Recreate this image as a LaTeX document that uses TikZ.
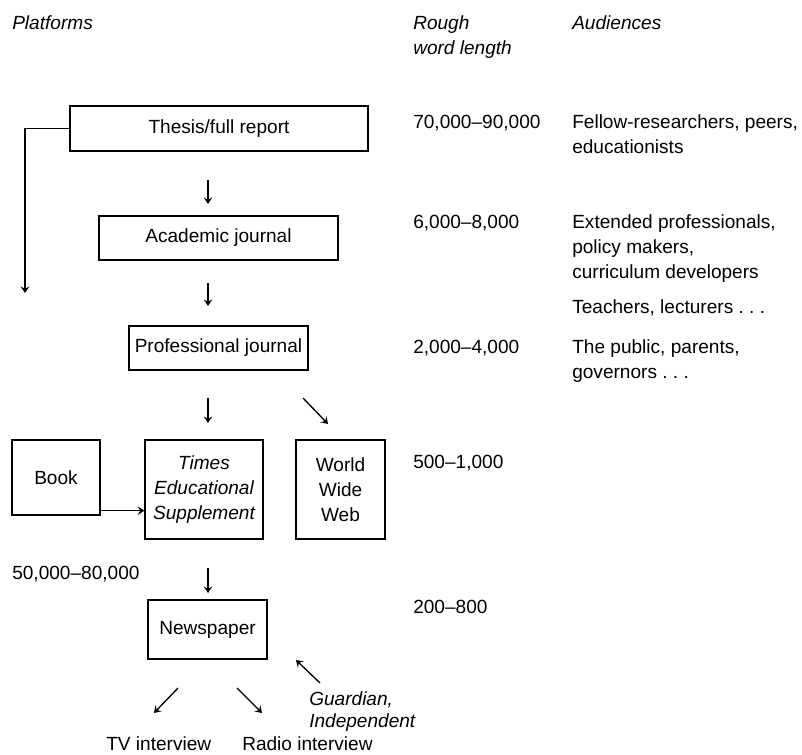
\documentclass[tikz,border=0pt]{standalone}
\usepackage{fontspec}
\setmainfont{Liberation Sans}
\usetikzlibrary{arrows.meta, positioning, calc}

\tikzset{
  box/.style={draw, line width=1pt, inner sep=0pt, align=center},
  lbl/.style={anchor=base west, inner sep=0pt, align=left},
  flow/.style={->, line width=1pt},
}

\begin{document}
\fontsize{14.3}{18.75}\selectfont\frenchspacing
\begin{tikzpicture}[x=0.75pt, y=-0.75pt, >={Stealth[length=5pt,width=6.5pt,inset=2pt]}]
    \useasboundingbox (0,0) rectangle (802,754);

    % column heads (multi-line labels sit on their last line)
    \node[lbl, font=\itshape] (hplat) at (12,29) {Platforms};
    \node[lbl, font=\itshape] (hlen) at (413,54) {Rough\\word length};
    \node[lbl, font=\itshape] (haud) at (572,29) {Audiences};

    % platforms
    \node[box, minimum width=223.5pt, minimum height=33.75pt] (thesis) at (219,128.5) {Thesis/full report};
    \node[box, minimum width=179.25pt, minimum height=33pt] (academic) at (218.5,238) {Academic journal};
    \node[box, minimum width=134.25pt, minimum height=33pt] (profjournal) at (218.5,348) {Professional journal};
    \node[box, minimum width=66pt, minimum height=56.25pt] (book) at (56,477.5) {Book};
    \node[box, minimum width=88.5pt, minimum height=74.25pt, font=\itshape] (tes) at (204,489.5) {Times\\Educational\\Supplement};
    \node[box, minimum width=66.75pt, minimum height=74.25pt] (www) at (340.5,489.5) {World\\Wide\\Web};
    \node[box, minimum width=89.25pt, minimum height=44.25pt] (newspaper) at (207.5,629.5) {Newspaper};

    \node[lbl] (tv) at (106,750) {TV interview};
    \node[lbl] (radio) at (242,750) {Radio interview};
    \node[lbl, font=\itshape] (guardian) at (309,727) {Guardian,\\[-2.25pt]Independent};
    \node[lbl] (lenbook) at (12,579) {50,000–80,000};

    % word lengths
    \node[lbl] (len1) at (413,128) {70,000–90,000};
    \node[lbl] (len2) at (413,228) {6,000–8,000};
    \node[lbl] (len3) at (413,353) {2,000–4,000};
    \node[lbl] (len4) at (413,468) {500–1,000};
    \node[lbl] (len5) at (413,613) {200–800};

    % audiences
    \node[lbl] (aud1) at (572,153) {Fellow-researchers, peers,\\educationists};
    \node[lbl] (aud2) at (572,278) {Extended professionals,\\policy makers,\\curriculum developers};
    \node[lbl] (aud3) at (572,313) {Teachers, lecturers . . .};
    \node[lbl] (aud4) at (572,378) {The public, parents,\\governors . . .};

    % arrow ends
    \coordinate (t1) at (208,180);  \coordinate (h1) at (208,204);
    \coordinate (t2) at (208,283);  \coordinate (h2) at (208,306);
    \coordinate (t3) at (208,398);  \coordinate (h3) at (208,423);
    \coordinate (t4) at (303,398);  \coordinate (h4) at (328,424);
    \coordinate (t5) at (208,568);  \coordinate (h5) at (208,593);
    \coordinate (t6) at (178,688);  \coordinate (h6) at (154,713);
    \coordinate (t7) at (237,688);  \coordinate (h7) at (262,713);
    \coordinate (t8) at (320,683);  \coordinate (h8) at (296,660);
    \coordinate (side) at (25,293);
    \coordinate (bk) at ([yshift=3.75pt]book.south east);

    \draw[flow] (thesis.west) -| (side);
    \draw[flow] (bk) -- (bk -| tes.west);
    \foreach \i in {1,...,8}
        \draw[flow] (t\i) -- (h\i);

\end{tikzpicture}
\end{document}
